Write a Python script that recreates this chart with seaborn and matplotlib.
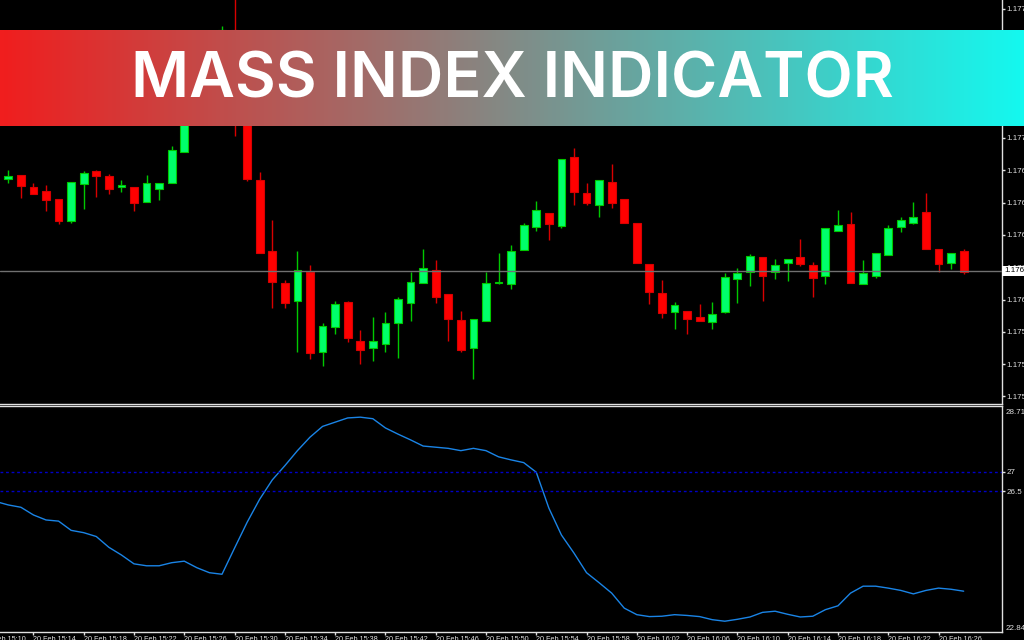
import numpy as np
import pandas as pd
import seaborn as sns
from matplotlib import pyplot as plt
from matplotlib.colors import LinearSegmentedColormap

# prices are in points above 1.17000
opens = [659.3, 663, 651.3, 647, 639, 617, 654, 666.7, 662, 650.7, 651.3, 636.3, 649, 655.3, 686, 720, 748, 778, 808, 738,
         658, 587, 555, 536.7, 566.3, 486.3, 511, 536, 496.7, 489.7, 494.3, 515.3, 535.3, 555.3, 568, 544, 518, 489.7, 517, 555.3,
         554, 588, 610.7, 625.3, 612, 680.7, 645, 633.3, 656, 639, 614.7, 574.3, 545.3, 526.3, 527, 521, 515.7, 526.3, 558.7, 566,
         580.7, 566, 575.3, 580.7, 573, 562, 607.3, 614.3, 554, 562, 583, 610.7, 615.3, 625.7, 588.7, 575, 587]
highs = [668, 663, 654.7, 653, 639, 656, 666.7, 668, 663.7, 658, 651.3, 663, 654.7, 692.3, 724, 752, 782, 812, 843, 738,
         666.3, 618, 558, 587, 573, 514.7, 537.3, 537.3, 508, 521, 526, 540.7, 566.3, 588.7, 577.7, 544, 527, 519.3, 566.3, 585.3,
         593, 614.7, 637.3, 625.3, 679, 690, 654.7, 658, 674.3, 639, 614.7, 574.3, 558, 536, 527, 534.3, 536, 564.7, 569.7, 584,
         580.7, 579, 579, 599, 576, 610, 628, 625.7, 577.7, 585.3, 613, 620.7, 636, 645, 588.7, 585.3, 588.7]
lows = [655.3, 640, 644.3, 627.3, 614, 615.3, 628.7, 641, 644.3, 646, 627.3, 636.3, 638, 655.3, 686, 718, 745, 776, 702, 657,
        584.7, 529.7, 529.7, 486.3, 478.7, 472, 504.3, 496, 474.3, 477, 486.3, 480, 517, 555.3, 535.3, 497.3, 486.3, 459, 517, 554.3,
        549.3, 588, 607.3, 598, 610.3, 633.3, 633, 621.3, 630, 615, 575, 533.7, 520.3, 509, 504.3, 517, 509, 525, 535, 552.3,
        536.7, 558.7, 557, 572, 541.3, 554, 607.3, 555.3, 554, 560.3, 583, 606, 613.7, 589.3, 566.3, 569, 564.3]
closes = [662, 652.3, 644.3, 638.3, 617, 656, 665, 662.3, 649, 653, 635, 654.7, 654.7, 688.3, 720, 748, 778, 808, 738, 659,
          584.7, 555.7, 535, 568, 485, 511.7, 534.3, 500, 488.3, 496.7, 514.7, 539, 556, 569.7, 541.3, 518.7, 488.3, 519.3, 555, 556.3,
          587, 613, 628, 614, 679, 646, 635, 658, 635, 615, 575, 546, 525, 533, 518.7, 517, 524, 561, 564.7, 582.3,
          562, 573, 579, 573.7, 560.3, 610, 613, 555.3, 564.7, 585.3, 610, 618, 621, 589.3, 573.7, 585.3, 566]
last_price = 567

# Mass Index, first value is the bar just left of the window
mass_index = [26.23, 26.14, 26.08, 25.88, 25.75, 25.72, 25.48, 25.42, 25.32, 25.04, 24.84, 24.61, 24.56, 24.56, 24.64, 24.68,
              24.51, 24.38, 24.34, 25.02, 25.69, 26.29, 26.79, 27.16, 27.55, 27.90, 28.18, 28.29, 28.40, 28.42, 28.38, 28.14,
              27.98, 27.83, 27.67, 27.64, 27.61, 27.55, 27.61, 27.55, 27.39, 27.31, 27.24, 26.99, 26.06, 25.36, 24.89, 24.38,
              24.12, 23.85, 23.46, 23.29, 23.24, 23.25, 23.29, 23.27, 23.24, 23.16, 23.12, 23.17, 23.23, 23.35, 23.38, 23.30,
              23.23, 23.25, 23.42, 23.52, 23.85, 24.03, 24.03, 23.98, 23.92, 23.83, 23.92, 23.98, 23.95, 23.90]
mass_levels = [27, 26.5]

price_tick_labels = ['1.177'] * 5 + ['1.176'] * 5 + ['1.175'] * 3
time_labels = ['15:10', '15:14', '15:18', '15:22', '15:26', '15:30', '15:34', '15:38', '15:42', '15:46', '15:50', '15:54',
               '15:58', '16:02', '16:06', '16:10', '16:14', '16:18', '16:22', '16:26']
title = 'MASS INDEX INDICATOR'

W, H = 1024, 640
AX_RIGHT = 1002
BULL, BEAR = '#00ff6a', '#ff0000'
BULL_EDGE, BEAR_EDGE = '#00c800', '#d80000'
AXIS = '#e0e0e0'
Y_FONT = 5.8
X_FONT = 5.2

sns.set_style('dark', {'axes.facecolor': 'black', 'figure.facecolor': 'black'})
plt.rcParams['font.family'] = ['Liberation Sans', 'DejaVu Sans']

fig = plt.figure(figsize=(W / 100, H / 100), dpi=100)


def px_axes(top, bottom, right=AX_RIGHT):
    return fig.add_axes([0, 1 - bottom / H, right / W, (bottom - top) / H])


ax = px_axes(0, 404)
ax2 = px_axes(406, 632)

# same x scale on both panes: 12.57 px per bar
xlim = (-0.66, 79.05)
n = len(opens)
df = pd.DataFrame({'bar': np.arange(n), 'open': opens, 'high': highs, 'low': lows, 'close': closes})
df['up'] = df['close'] >= df['open']

for up, colour, edge in [(True, BULL, BULL_EDGE), (False, BEAR, BEAR_EDGE)]:
    d = df[df['up'] == up]
    ax.vlines(d['bar'], d['low'], d['high'], color=edge, lw=1, zorder=2)
    ax.bar(d['bar'], (d['close'] - d['open']).abs().clip(lower=0.8), bottom=d[['open', 'close']].min(axis=1),
           width=0.62, color=colour, edgecolor=edge, linewidth=0.8, zorder=3)

ax.axhline(last_price, color='#707070', lw=1, zorder=4)
ax.set_xlim(*xlim)
ax.set_ylim(434, 838)
price_ticks = 700 + 32.3 * np.arange(4, -9, -1)
ax.set_xticks([])
ax.yaxis.tick_right()
ax.set_yticks(price_ticks, price_tick_labels)
ax.text(1.002, last_price, '1.176', transform=ax.get_yaxis_transform(), va='center', ha='left', color='black',
        fontsize=Y_FONT, zorder=10, clip_on=False,
        bbox=dict(facecolor='white', edgecolor='none', pad=1.2))

# lower pane
sns.lineplot(x=np.arange(-1, n), y=mass_index, ax=ax2, color='#1a84e6', lw=1)
for level in mass_levels:
    ax2.axhline(level, color='#0000c8', lw=1, ls=(0, (2, 2)))
ax2.yaxis.tick_right()
ax2.set_yticks(mass_levels, ['27', '26.5'])
ax2.text(1.004, 28.64, '28.71', transform=ax2.get_yaxis_transform(), va='top', ha='left', color=AXIS,
         fontsize=Y_FONT, clip_on=False)
ax2.text(1.004, 22.84, '22.84', transform=ax2.get_yaxis_transform(), va='bottom', ha='left', color=AXIS,
         fontsize=Y_FONT, clip_on=False)
time_ticks = np.arange(2, n, 4)
ax2.set_xticks(time_ticks, ['20 Feb ' + t for t in time_labels[1:]], ha='left')
# first label belongs to a tick left of the window, only its end shows
ax2.text(-2, -0.0186, '20 Feb ' + time_labels[0], transform=ax2.get_xaxis_transform(), va='top', ha='left',
         color=AXIS, fontsize=X_FONT, clip_on=False)
# set_xticks widens the view, so the limits come after it
ax2.set_xlim(*xlim)
ax2.set_ylim(22.84, 28.71)

for a in (ax, ax2):
    a.grid(False)
    a.set_facecolor('black')
    a.tick_params(axis='both', length=2, width=1, color=AXIS, labelcolor=AXIS, pad=1,
                  bottom=a is ax2, right=True, left=False, labelleft=False, labelright=True)
    a.tick_params(axis='x', labelsize=X_FONT)
    a.tick_params(axis='y', labelsize=Y_FONT)
    for side, spine in a.spines.items():
        spine.set_visible(True)
        spine.set_color(AXIS)
        spine.set_linewidth(1)
    a.spines['left'].set_visible(False)
ax.spines['top'].set_visible(False)

# banner over everything
banner = fig.add_axes([0, 1 - 126 / H, 1, 96 / H], zorder=20)
cmap = LinearSegmentedColormap.from_list('banner', ['#f01e1e', '#14f8ef'])
banner.imshow(np.linspace(0, 1, 512).reshape(1, -1), aspect='auto', cmap=cmap, extent=(0, 1, 0, 1))
banner.axis('off')
banner.text(0.5, 0.302, title, ha='center', va='baseline', color='white', fontsize=45.3, fontweight='semibold',
            family='Inter', transform=banner.transAxes)

fig.savefig('out.png', dpi=100, facecolor='black')
